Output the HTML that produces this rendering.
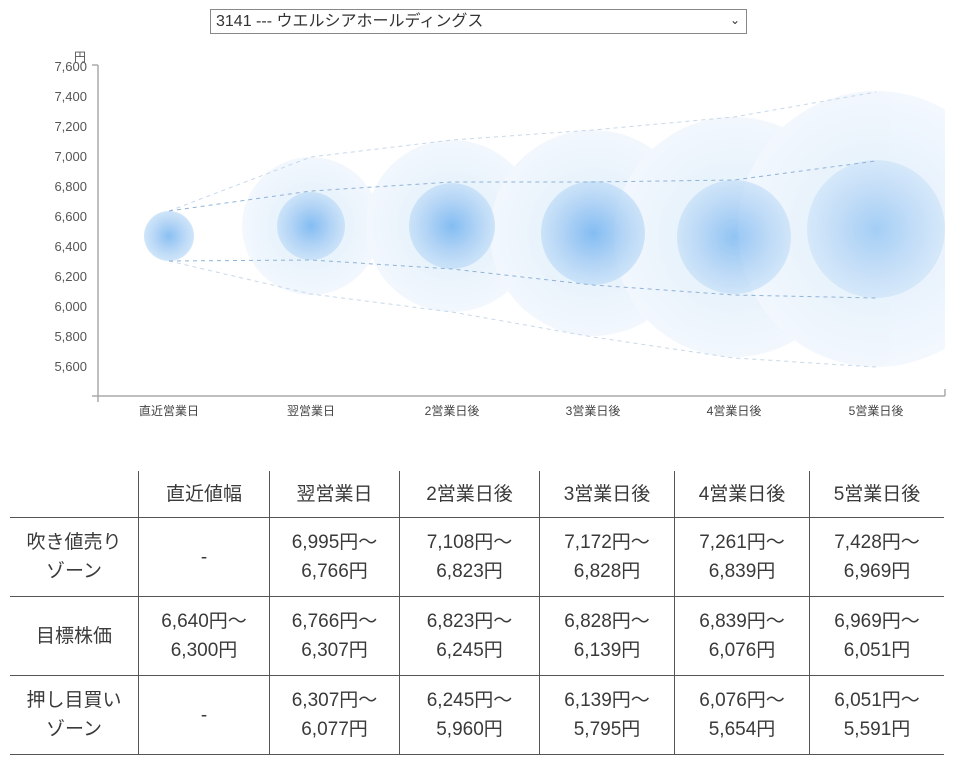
<!DOCTYPE html>
<html><head><meta charset="utf-8"><style>
body{margin:0;width:955px;height:760px;background:#fff;position:relative;overflow:hidden;font-family:"Liberation Sans","Noto Sans CJK JP",sans-serif;color:#333}
.sel{position:absolute;left:210px;top:9px;border:1px solid #888;font-size:16px;line-height:23px;padding-left:5px;box-sizing:border-box;width:537px;height:25px}
.sel span{position:absolute;right:6px;top:-1px;font-size:12px}
table{position:absolute;left:10px;top:471px;border-collapse:collapse;font-size:19px;color:#3a3a3a}
td{border:1px solid #555;text-align:center;line-height:29px;padding:0}
tr:first-child td{border-top:none;height:46px}
td:first-child{border-left:none}
td:last-child{border-right:none}
tr.r td{height:78px}
</style></head><body>
<div class="sel">3141 --- ウエルシアホールディングス<span>&#8964;</span></div>
<svg width="955" height="440" style="position:absolute;left:0;top:0" font-family="Liberation Sans, Noto Sans CJK JP, sans-serif">
<defs>
<radialGradient id="gi"><stop offset="0" stop-color="#6cb0f0"/><stop offset="0.6" stop-color="#a6cdf4"/><stop offset="1" stop-color="#c4dff8"/></radialGradient>
<radialGradient id="go"><stop offset="0" stop-color="#d6e9fb"/><stop offset="0.6" stop-color="#e2effc"/><stop offset="1" stop-color="#eef5fe"/></radialGradient>
<clipPath id="c"><rect x="98" y="40" width="847" height="356"/></clipPath>
</defs>
<g clip-path="url(#c)">
<g opacity="0.7">
<circle cx="311" cy="226" r="69" fill="url(#go)"/>
<circle cx="452" cy="226" r="86" fill="url(#go)"/>
<circle cx="593" cy="233" r="103" fill="url(#go)"/>
<circle cx="734" cy="237" r="120" fill="url(#go)"/>
<circle cx="876" cy="229" r="138" fill="url(#go)"/>
</g>
<g opacity="0.8">
<circle cx="169" cy="236" r="25" fill="url(#gi)"/>
<circle cx="311" cy="226" r="34" fill="url(#gi)"/>
<circle cx="452" cy="226" r="43" fill="url(#gi)"/>
<circle cx="593" cy="233" r="52" fill="url(#gi)"/>
<circle cx="734" cy="237" r="57" fill="url(#gi)" opacity="0.85"/>
<circle cx="876" cy="229" r="69" fill="url(#gi)" opacity="0.65"/>
</g>
</g>
<g fill="none" stroke-dasharray="4,4" stroke-width="1">
<polyline stroke="#c6d8ea" points="169,211 311,157 452,140 593,130 734,117 876,92"/>
<polyline stroke="#c6d8ea" points="169,261 311,294 452,312 593,337 734,358 876,367"/>
<polyline stroke="#8fb3d8" points="169,211 311,191 452,182 593,182 734,180 876,161"/>
<polyline stroke="#8fb3d8" points="169,261 311,260 452,269 593,285 734,295 876,298"/>
</g>
<g stroke="#aaa" stroke-width="1.5" fill="none">
<line x1="98" y1="65" x2="98" y2="402"/>
<line x1="92" y1="396" x2="945" y2="396"/>
<line x1="92" y1="65" x2="98" y2="65"/>
<line x1="945" y1="396" x2="945" y2="389"/>
</g>
<g font-size="13" fill="#555" text-anchor="end">
<text x="87" y="71">7,600</text><text x="87" y="101">7,400</text><text x="87" y="131">7,200</text>
<text x="87" y="161">7,000</text><text x="87" y="191">6,800</text><text x="87" y="221">6,600</text>
<text x="87" y="251">6,400</text><text x="87" y="281">6,200</text><text x="87" y="311">6,000</text>
<text x="87" y="341">5,800</text><text x="87" y="371">5,600</text>
</g>
<text x="74" y="61" font-size="12" fill="#555">円</text>
<g font-size="12" fill="#444" text-anchor="middle">
<text x="169" y="415">直近営業日</text><text x="311" y="415">翌営業日</text><text x="452" y="415">2営業日後</text>
<text x="593" y="415">3営業日後</text><text x="734" y="415">4営業日後</text><text x="876" y="415">5営業日後</text>
</g>
</svg>
<table>
<tr><td style="width:128px"></td><td style="width:130px">直近値幅</td><td style="width:129px">翌営業日</td><td style="width:139px">2営業日後</td><td style="width:134px">3営業日後</td><td style="width:134px">4営業日後</td><td style="width:134px">5営業日後</td></tr>
<tr class="r"><td>吹き値売り<br>ゾーン</td><td>-</td><td>6,995円～<br>6,766円</td><td>7,108円～<br>6,823円</td><td>7,172円～<br>6,828円</td><td>7,261円～<br>6,839円</td><td>7,428円～<br>6,969円</td></tr>
<tr class="r"><td>目標株価</td><td>6,640円～<br>6,300円</td><td>6,766円～<br>6,307円</td><td>6,823円～<br>6,245円</td><td>6,828円～<br>6,139円</td><td>6,839円～<br>6,076円</td><td>6,969円～<br>6,051円</td></tr>
<tr class="r"><td>押し目買い<br>ゾーン</td><td>-</td><td>6,307円～<br>6,077円</td><td>6,245円～<br>5,960円</td><td>6,139円～<br>5,795円</td><td>6,076円～<br>5,654円</td><td>6,051円～<br>5,591円</td></tr>
</table>
</body></html>
